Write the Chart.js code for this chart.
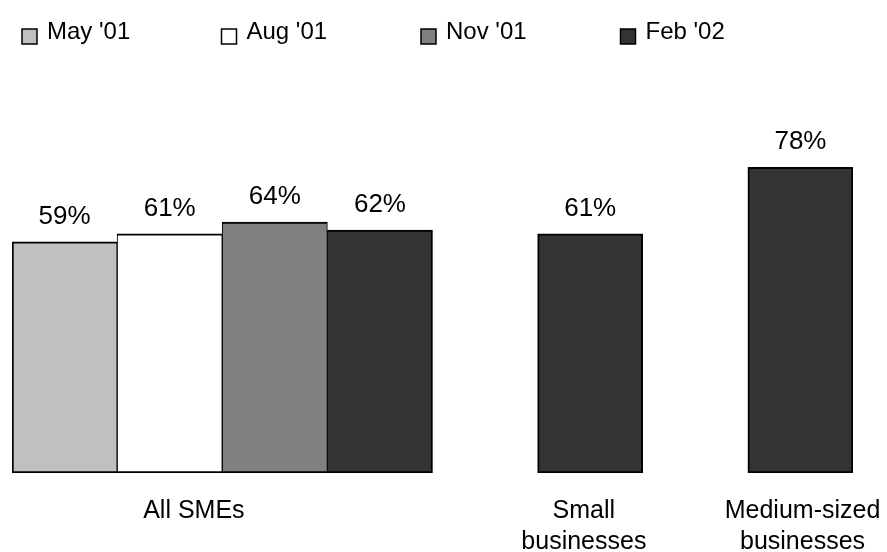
<!DOCTYPE html>
<html>
<head>
<meta charset="utf-8">
<script src="https://cdn.jsdelivr.net/npm/chart.js@4/dist/chart.umd.min.js"></script>
<style>
  html, body { margin: 0; padding: 0; background: #fff; }
  #wrap { width: 887px; height: 552px; }
</style>
</head>
<body>
<div id="wrap"><canvas id="smeChart" width="887" height="552"></canvas></div>
<script>
// survey periods (legend) and the three groups
var periods = ["May '01", "Aug '01", "Nov '01", "Feb '02"];
var periodColors = ['#c0c0c0', '#ffffff', '#808080', '#333333'];
var groups = ['All SMEs', ['Small', 'businesses'], ['Medium-sized', 'businesses']];

// share in %, one value per period for all SMEs, latest period only for the split
var allSMEs = [59, 61, 64, 62];
var smallBusinesses = 61;
var mediumBusinesses = 78;

// 8 equal slots along x: 4 bars for All SMEs, gap, small, gap, medium
var slots = ['s0', 's1', 's2', 's3', 's4', 's5', 's6', 's7'];

function buildData(p) {
    var d = slots.map(function () { return null; });
    d[p] = allSMEs[p];
    if (p === 3) {
        d[5] = smallBusinesses;
        d[7] = mediumBusinesses;
    }
    return d;
}

// bars of the All SMEs block touch each other, so the shared edges get half width
function barBorder(c) {
    var i = c.dataIndex;
    return {
        top: 2,
        bottom: 2,
        left: (i >= 1 && i <= 3) ? 1 : 2,
        right: (i <= 2) ? 1 : 2
    };
}

var datasets = periods.map(function (label, p) {
    return {
        label: label,
        data: buildData(p),
        backgroundColor: periodColors[p],
        borderColor: '#000',
        borderWidth: barBorder,
        borderSkipped: false,
        barPercentage: 1,
        categoryPercentage: 1
    };
});

var FONT = '"Liberation Sans", Arial, sans-serif';

// value labels above each bar
var valueLabels = {
    id: 'valueLabels',
    afterDatasetsDraw: function (chart) {
        var ctx = chart.ctx;
        ctx.save();
        ctx.font = '26px ' + FONT;
        ctx.fillStyle = '#000';
        ctx.textAlign = 'center';
        ctx.textBaseline = 'alphabetic';
        chart.data.datasets.forEach(function (ds, i) {
            chart.getDatasetMeta(i).data.forEach(function (bar, j) {
                var v = ds.data[j];
                if (v === null) return;
                ctx.fillText(v + '%', bar.x, bar.y - 18);
            });
        });
        ctx.restore();
    }
};

// group names under the bars, legend row on top
var groupLabels = {
    id: 'groupLabels',
    afterDraw: function (chart) {
        var ctx = chart.ctx;
        var x = chart.scales.x;
        var pos = [1.23, 4.94, 7.02];
        ctx.save();
        ctx.font = '25px ' + FONT;
        ctx.fillStyle = '#000';
        ctx.textAlign = 'center';
        ctx.textBaseline = 'alphabetic';
        groups.forEach(function (g, i) {
            var lines = Array.isArray(g) ? g : [g];
            var cx = x.getPixelForValue(pos[i]);
            lines.forEach(function (t, k) {
                ctx.fillText(t, cx, 518 + k * 31);
            });
        });

        ctx.font = '24px ' + FONT;
        ctx.textAlign = 'left';
        chart.data.datasets.forEach(function (ds, i) {
            var bx = 22 + i * 199.5;
            ctx.fillStyle = ds.backgroundColor;
            ctx.fillRect(bx, 29, 15, 15);
            ctx.strokeStyle = '#000';
            ctx.lineWidth = 1.5;
            ctx.strokeRect(bx, 29, 15, 15);
            ctx.fillStyle = '#000';
            ctx.fillText(ds.label, bx + 25, 38.5);
        });
        ctx.restore();
    }
};

var ctx = document.getElementById('smeChart').getContext('2d');
var smeChart = new Chart(ctx, {
    type: 'bar',
    data: { labels: slots, datasets: datasets },
    options: {
        responsive: false,
        animation: false,
        layout: { padding: { left: 12, right: 34, top: 81, bottom: 79 } },
        scales: {
            x: { stacked: true, display: false },
            y: { stacked: true, display: false, min: 0, max: 100 }
        },
        plugins: {
            legend: { display: false },
            tooltip: { enabled: false }
        }
    },
    plugins: [valueLabels, groupLabels]
});
</script>
</body>
</html>
